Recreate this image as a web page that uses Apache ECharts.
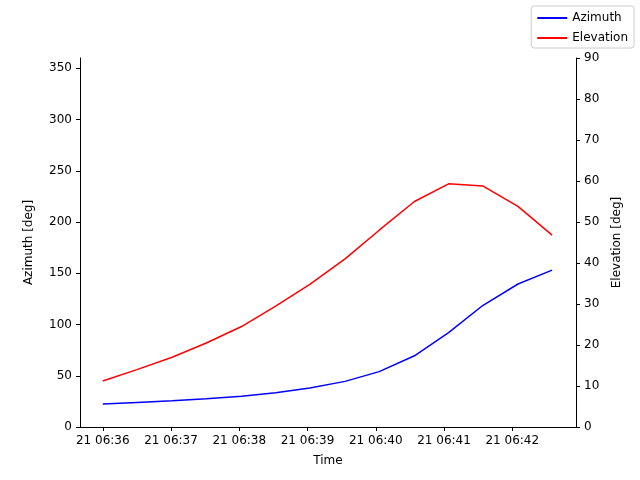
<!DOCTYPE html>
<html><head><meta charset="utf-8">
<script src="https://cdn.jsdelivr.net/npm/echarts@6/dist/echarts.min.js"></script>
<style>html,body{margin:0;padding:0;background:#fff}#c{width:640px;height:480px}</style>
</head><body><div id="c"></div>
<script>
// seconds since 06:36:00
const times = [0,30,61,91,122,152,182,213,243,274,304,334,365,395];
const azimuth = [22.5,24,25.5,27.5,30,33.5,38,44.5,54,69.5,92,118.5,139.5,153];
const elevation = [11.2,14,17,20.5,24.5,29.5,34.8,41,48,55,59.3,58.8,53.8,46.8];
const tickValues = [0,60,120,180,240,300,360];
const tickLabels = ['21 06:36','21 06:37','21 06:38','21 06:39','21 06:40','21 06:41','21 06:42'];

const font = 'DejaVu Sans';
const ch = echarts.init(document.getElementById('c'));
const axisCommon = {
  axisLine:{show:true,onZero:false,lineStyle:{color:'#000',width:1}},
  axisTick:{show:true,length:4,lineStyle:{color:'#000'}},
  axisLabel:{color:'#000',fontFamily:font,fontSize:12},
  splitLine:{show:false},
  nameTextStyle:{color:'#000',fontFamily:font,fontSize:12}
};
ch.setOption({
  animation:false,
  textStyle:{fontFamily:font},
  grid:{left:80,right:64,top:58,bottom:53},
  legend:{right:6,top:6,orient:'vertical',itemWidth:30,itemHeight:2,itemGap:8,
    borderColor:'#ccc',borderWidth:1,borderRadius:3,padding:[6,6,4,6],
    textStyle:{fontFamily:font,fontSize:12,color:'#000'},
    data:[{name:'Azimuth',icon:'rect'},{name:'Elevation',icon:'rect'}]},
  xAxis:[
    Object.assign({},axisCommon,{type:'value',min:-20,max:416,name:'Time',nameLocation:'middle',nameGap:28,
      axisTick:{show:true,length:4,lineStyle:{color:'#000'},customValues:tickValues},
      axisLabel:{color:'#000',fontFamily:font,fontSize:12,customValues:tickValues,
        formatter:v=>tickLabels[tickValues.indexOf(v)]}}),
    {type:'value',position:'top',min:-20,max:416,axisLine:{show:true,lineStyle:{color:'#000'}},
      axisTick:{show:false},axisLabel:{show:false},splitLine:{show:false}}
  ],
  yAxis:[
    Object.assign({},axisCommon,{type:'value',min:0,max:360,interval:50,name:'Azimuth [deg]',nameLocation:'middle',nameGap:45,
      axisLabel:{color:'#000',fontFamily:font,fontSize:12,showMaxLabel:false}}),
    Object.assign({},axisCommon,{type:'value',position:'right',min:0,max:90,interval:10,name:'Elevation [deg]',nameLocation:'middle',nameGap:35})
  ],
  series:[
    {name:'Azimuth',type:'line',xAxisIndex:0,yAxisIndex:0,data:times.map((t,i)=>[t,azimuth[i]]),
      showSymbol:false,lineStyle:{color:'#0000ff',width:1.5},itemStyle:{color:'#0000ff'}},
    {name:'Elevation',type:'line',xAxisIndex:0,yAxisIndex:1,data:times.map((t,i)=>[t,elevation[i]]),
      showSymbol:false,lineStyle:{color:'#ff0000',width:1.5},itemStyle:{color:'#ff0000'}}
  ]
});
</script></body></html>
